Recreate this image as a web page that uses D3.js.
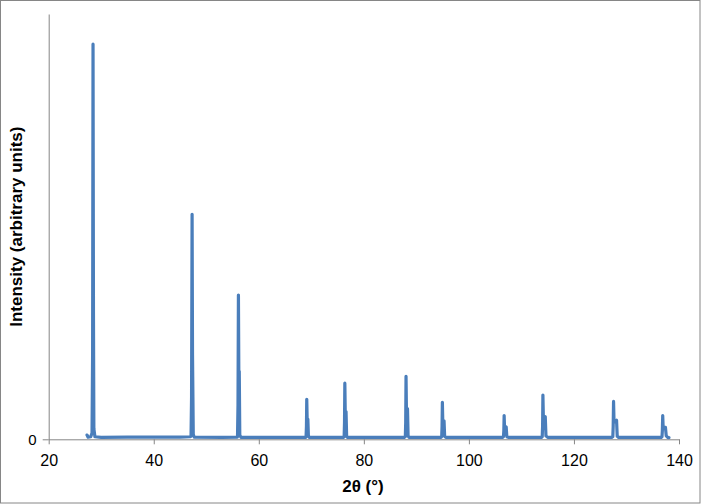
<!DOCTYPE html>
<html><head><meta charset="utf-8">
<script src="https://cdn.jsdelivr.net/npm/d3@7/dist/d3.min.js"></script>
<style>body{margin:0;background:#fff;} svg{display:block;}</style>
</head><body>
<svg id="chart" width="701" height="504"></svg>
<script>
// Data: 2θ (degrees) and intensity (arbitrary units)
const twoTheta = [
  27.30, 27.50, 28.00, 28.25, 28.36, 28.44, 28.52, 28.60, 28.80, 30.00,
  35.00, 40.00, 45.00, 47.00,
  47.10, 47.20, 47.30, 47.38, 47.44, 47.52, 47.70,
  53.00, 55.90,
  55.95, 56.04, 56.12, 56.20, 56.28, 56.38, 56.60,
  62.00, 68.90,
  69.00, 69.07, 69.13, 69.21, 69.34, 69.44, 69.60,
  76.10,
  76.25, 76.32, 76.38, 76.46, 76.61, 76.72, 76.90,
  87.70,
  87.90, 87.97, 88.03, 88.11, 88.31, 88.42, 88.60,
  94.70,
  94.82, 94.89, 94.95, 95.03, 95.27, 95.38, 95.60,
  106.40,
  106.58, 106.65, 106.71, 106.79, 107.10, 107.22, 107.50,
  113.80,
  113.96, 114.03, 114.09, 114.18, 114.54, 114.67, 115.00,
  127.20,
  127.40, 127.47, 127.54, 127.63, 128.11, 128.24, 128.50,
  136.60,
  136.76, 136.83, 136.90, 136.99, 137.30, 137.42, 137.57, 137.90, 138.10
];
const intensity = [
  1.0, 0.5, 0.6, 1.5, 20.0, 92.9, 30.0, 2.5, 0.6, 0.45,
  0.5, 0.5, 0.5, 0.6,
  0.8, 10.0, 52.9, 20.0, 12.0, 1.2, 0.5,
  0.45, 0.5,
  0.7, 8.0, 33.9, 15.0, 16.0, 1.0, 0.45,
  0.45, 0.45,
  0.6, 3.0, 9.4, 4.5, 4.7, 0.8, 0.45,
  0.45,
  0.6, 4.0, 13.2, 6.0, 6.5, 0.7, 0.45,
  0.45,
  0.6, 4.0, 14.8, 6.5, 7.2, 0.8, 0.45,
  0.45,
  0.6, 3.0, 8.7, 4.0, 4.3, 0.7, 0.45,
  0.45,
  0.6, 2.0, 5.6, 2.6, 2.9, 0.6, 0.45,
  0.45,
  0.6, 3.0, 10.4, 4.8, 5.3, 0.8, 0.45,
  0.45,
  0.6, 3.0, 8.9, 4.0, 4.5, 0.7, 0.45,
  0.45,
  0.6, 2.0, 5.6, 2.5, 2.8, 2.8, 0.8, 0.4, 0.4
];
const xTicks = [20, 40, 60, 80, 100, 120, 140];
const yTicks = [0];
const xTitle = "2θ (°)";
const yTitle = "Intensity (arbitrary units)";

const svg = d3.select("#chart");
const W = 701, H = 504;
const m = {left: 48.7, right: 679, top: 14, bottom: 439.3};

svg.append("rect").attr("x", 0.5).attr("y", 0.5).attr("width", W - 1.5).attr("height", H - 1.5)
  .attr("fill", "#fff").attr("stroke", "#868686").attr("stroke-width", 1);

const x = d3.scaleLinear().domain([20, 140]).range([m.left, m.right]);
const y = d3.scaleLinear().domain([0, 100]).range([m.bottom, m.top]);

const font = "'Liberation Sans', Arial, sans-serif";

// x axis
const xAxis = svg.append("g").attr("transform", `translate(0,${m.bottom})`)
  .call(d3.axisBottom(x).tickValues(xTicks).tickSize(5).tickPadding(10).tickSizeOuter(0));
xAxis.select(".domain").attr("stroke", "#868686");
xAxis.selectAll(".tick line").attr("stroke", "#868686");
xAxis.selectAll(".tick text").attr("font-family", font).attr("font-size", 16).attr("fill", "#000");

// y axis
const yAxis = svg.append("g").attr("transform", `translate(${m.left},0)`)
  .call(d3.axisLeft(y).tickValues(yTicks).tickSize(6).tickPadding(6).tickSizeOuter(0));
yAxis.select(".domain").attr("stroke", "#868686");
yAxis.selectAll(".tick line").attr("stroke", "#868686");
yAxis.selectAll(".tick text").attr("font-family", font).attr("font-size", 15).attr("fill", "#000");

// line
const pts = twoTheta.map((t, i) => [t, intensity[i]]);
svg.append("path").datum(pts)
  .attr("fill", "none").attr("stroke", "#4A7EBB").attr("stroke-width", 3.2)
  .attr("stroke-linejoin", "round").attr("stroke-linecap", "round")
  .attr("d", d3.line().x(d => x(d[0])).y(d => y(d[1])));

// titles
svg.append("text").attr("x", 363).attr("y", 492).attr("text-anchor", "middle")
  .attr("font-family", font).attr("font-weight", "bold").attr("font-size", 17).attr("fill", "#000")
  .text(xTitle);
svg.append("text").attr("transform", `translate(22,${(m.top + m.bottom) / 2}) rotate(-90)`)
  .attr("text-anchor", "middle")
  .attr("font-family", font).attr("font-weight", "bold").attr("font-size", 17).attr("fill", "#000")
  .text(yTitle);
</script>
</body></html>
